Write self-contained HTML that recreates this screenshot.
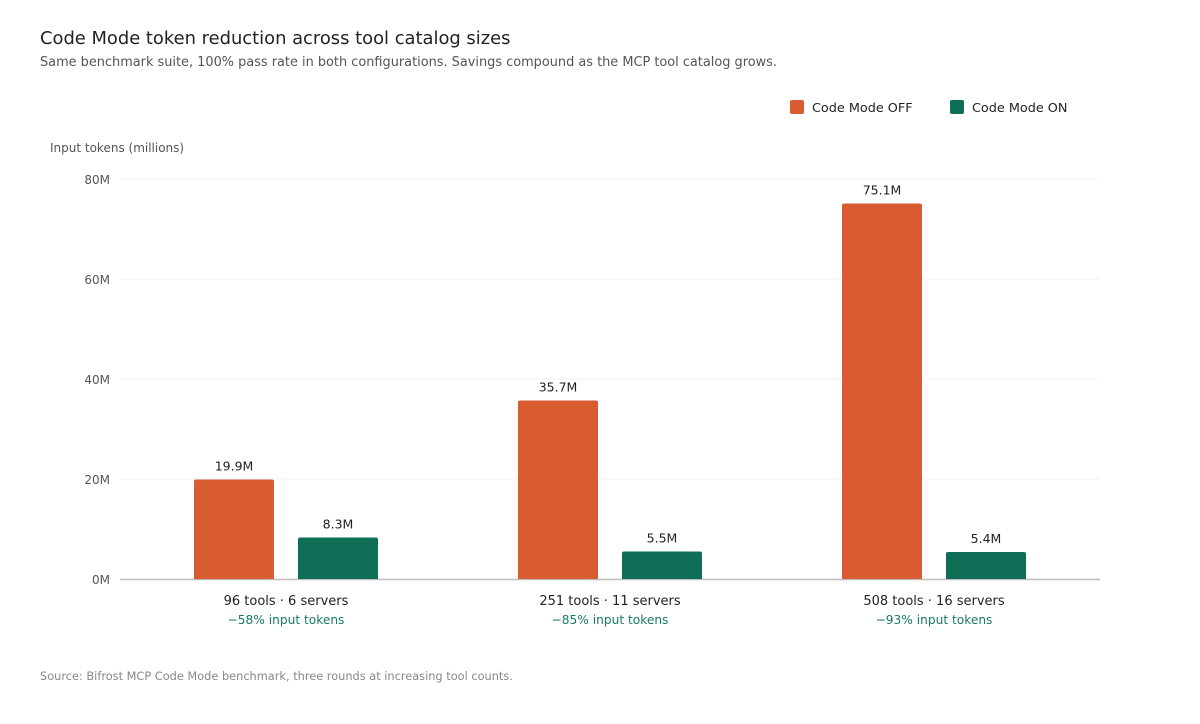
<!DOCTYPE html>
<html><head><meta charset="utf-8"><style>
body{margin:0;background:#fff;font-family:"DejaVu Sans","Liberation Sans",sans-serif;}
svg text{font-family:"DejaVu Sans","Liberation Sans",sans-serif;}
</style></head><body>
<svg id="c" width="1200" height="720" xmlns="http://www.w3.org/2000/svg">
<text x="40" y="44" font-size="17.9" fill="#222">Code Mode token reduction across tool catalog sizes</text>
<text x="40" y="66" font-size="12.9" fill="#555">Same benchmark suite, 100% pass rate in both configurations. Savings compound as the MCP tool catalog grows.</text>
<rect x="790" y="100" width="14" height="14" rx="2" fill="#D95B32"/>
<text x="812" y="112" font-size="12.8" fill="#222">Code Mode OFF</text>
<rect x="950" y="100" width="14" height="14" rx="2" fill="#0F6E56"/>
<text x="972" y="112" font-size="12.8" fill="#222">Code Mode ON</text>
<text x="50" y="152" font-size="12" fill="#555">Input tokens (millions)</text>
<g id="grid"></g><g id="bars"></g>
<text x="40" y="680" font-size="11.35" fill="#888">Source: Bifrost MCP Code Mode benchmark, three rounds at increasing tool counts.</text>
</svg>
<script>
const categories=["96 tools · 6 servers","251 tools · 11 servers","508 tools · 16 servers"];
const savings=["−58% input tokens","−85% input tokens","−93% input tokens"];
const offValues=[19.9,35.7,75.1];
const onValues=[8.3,5.5,5.4];
const yTicks=[0,20,40,60,80];
const NS="http://www.w3.org/2000/svg";
const y0=579,yTop=179,yMax=80,x0=120,x1=1100;
const y=v=>y0-(v/yMax)*(y0-yTop);
const gx=i=>286+324*i;
function mk(tag,attrs,parent,text){const e=document.createElementNS(NS,tag);for(const k in attrs)e.setAttribute(k,attrs[k]);if(text!=null)e.textContent=text;parent.appendChild(e);return e;}
const grid=document.getElementById('grid'),bars=document.getElementById('bars');
yTicks.forEach(t=>{
 if(t>0){const l=mk('line',{x1:x0,x2:x1,y1:y(t),y2:y(t),stroke:'#f2f2f2','stroke-width':1},grid);
 
 }
 const tx=mk('text',{x:110,y:y(t)+5,'font-size':12,fill:'#555','text-anchor':'end'},grid,t+'M');
 
 
});
const base=mk('line',{x1:x0,x2:x1,y1:y0+0.5,y2:y0+0.5,stroke:'#bbb','stroke-width':1.5},grid);


function bar(cx,v,color,name){
 const p=mk('path',{d:`M${cx-40},${y0} V${y(v)+2} Q${cx-40},${y(v)} ${cx-38},${y(v)} H${cx+38} Q${cx+40},${y(v)} ${cx+40},${y(v)+2} V${y0} Z`,fill:color},bars);
 
 
 const t=mk('text',{x:cx,y:y(v)-9,'font-size':12.5,fill:'#222','text-anchor':'middle'},bars,v.toFixed(1)+'M');
 
 
}
categories.forEach((c,i)=>{
 const cx=gx(i);
 bar(cx-52,offValues[i],'#D95B32','bar-off-'+i);
 bar(cx+52,onValues[i],'#0F6E56','bar-on-'+i);
 const t=mk('text',{x:cx,y:605,'font-size':13,fill:'#222','text-anchor':'middle'},bars,c);
 
 
 const s=mk('text',{x:cx,y:624,'font-size':12.2,fill:'#1a7a5e','text-anchor':'middle'},bars,savings[i]);
 
 
});
</script>
</body></html>
